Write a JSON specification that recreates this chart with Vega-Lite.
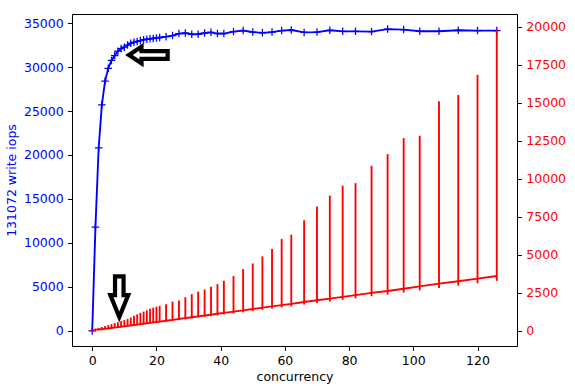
{
  "$schema": "https://vega.github.io/schema/vega-lite/v6.json",
  "width": 445,
  "height": 332,
  "autosize": {"type": "none"},
  "padding": {"left": 72, "top": 14, "right": 58, "bottom": 43},
  "background": "white",
  "config": {
    "view": {"stroke": "black", "strokeWidth": 1},
    "font": "DejaVu Sans",
    "axis": {
      "labelFont": "DejaVu Sans",
      "titleFont": "DejaVu Sans",
      "labelFontSize": 12.5,
      "titleFontSize": 12.5,
      "titleFontWeight": "normal",
      "tickSize": 4.4,
      "tickColor": "black",
      "tickWidth": 1,
      "labelPadding": 4.4,
      "domain": false,
      "grid": false
    }
  },
  "datasets": {
    "perf": [
      {"c": 0, "iops": 0, "lat": 0, "lo": 0, "hi": 0},
      {"c": 1, "iops": 11800, "lat": 83, "lo": 76, "hi": 150},
      {"c": 2, "iops": 20800, "lat": 94, "lo": 86, "hi": 200},
      {"c": 3, "iops": 25700, "lat": 114, "lo": 104, "hi": 260},
      {"c": 4, "iops": 28400, "lat": 138, "lo": 126, "hi": 320},
      {"c": 5, "iops": 29850, "lat": 164, "lo": 149, "hi": 390},
      {"c": 6, "iops": 30750, "lat": 191, "lo": 174, "hi": 450},
      {"c": 7, "iops": 31300, "lat": 219, "lo": 199, "hi": 520},
      {"c": 8, "iops": 31800, "lat": 247, "lo": 225, "hi": 580},
      {"c": 9, "iops": 32100, "lat": 275, "lo": 250, "hi": 650},
      {"c": 10, "iops": 32250, "lat": 304, "lo": 277, "hi": 710},
      {"c": 11, "iops": 32500, "lat": 332, "lo": 302, "hi": 790},
      {"c": 12, "iops": 32700, "lat": 360, "lo": 328, "hi": 880},
      {"c": 13, "iops": 32800, "lat": 388, "lo": 353, "hi": 1000},
      {"c": 14, "iops": 32900, "lat": 417, "lo": 379, "hi": 1090},
      {"c": 15, "iops": 33000, "lat": 445, "lo": 405, "hi": 1190},
      {"c": 16, "iops": 33100, "lat": 474, "lo": 431, "hi": 1270},
      {"c": 17, "iops": 33150, "lat": 503, "lo": 458, "hi": 1360},
      {"c": 18, "iops": 33200, "lat": 531, "lo": 483, "hi": 1460},
      {"c": 19, "iops": 33250, "lat": 560, "lo": 510, "hi": 1530},
      {"c": 20, "iops": 33300, "lat": 589, "lo": 536, "hi": 1590},
      {"c": 21, "iops": 33350, "lat": 617, "lo": 561, "hi": 1650},
      {"c": 23, "iops": 33450, "lat": 674, "lo": 613, "hi": 1760},
      {"c": 25, "iops": 33570, "lat": 730, "lo": 664, "hi": 1930},
      {"c": 27, "iops": 33800, "lat": 783, "lo": 713, "hi": 2000},
      {"c": 29, "iops": 33860, "lat": 839, "lo": 763, "hi": 2220},
      {"c": 31, "iops": 33720, "lat": 901, "lo": 820, "hi": 2420},
      {"c": 33, "iops": 33720, "lat": 959, "lo": 873, "hi": 2590},
      {"c": 35, "iops": 33860, "lat": 1013, "lo": 922, "hi": 2720},
      {"c": 37, "iops": 33940, "lat": 1068, "lo": 972, "hi": 2900},
      {"c": 39, "iops": 33800, "lat": 1131, "lo": 1029, "hi": 3080},
      {"c": 41, "iops": 33800, "lat": 1189, "lo": 1082, "hi": 3300},
      {"c": 44, "iops": 34020, "lat": 1267, "lo": 1153, "hi": 3610},
      {"c": 47, "iops": 34140, "lat": 1349, "lo": 1228, "hi": 4070},
      {"c": 50, "iops": 33970, "lat": 1443, "lo": 1313, "hi": 4440},
      {"c": 53, "iops": 33880, "lat": 1533, "lo": 1395, "hi": 4900},
      {"c": 56, "iops": 33970, "lat": 1616, "lo": 1471, "hi": 5390},
      {"c": 59, "iops": 34140, "lat": 1694, "lo": 1542, "hi": 6050},
      {"c": 62, "iops": 34200, "lat": 1776, "lo": 1616, "hi": 6330},
      {"c": 66, "iops": 33930, "lat": 1906, "lo": 1734, "hi": 7280},
      {"c": 70, "iops": 33970, "lat": 2020, "lo": 1838, "hi": 8180},
      {"c": 74, "iops": 34170, "lat": 2122, "lo": 1931, "hi": 8900},
      {"c": 78, "iops": 34050, "lat": 2245, "lo": 2043, "hi": 9550},
      {"c": 82, "iops": 34050, "lat": 2360, "lo": 2148, "hi": 9720},
      {"c": 87, "iops": 34020, "lat": 2506, "lo": 2280, "hi": 10860},
      {"c": 92, "iops": 34310, "lat": 2627, "lo": 2391, "hi": 11630},
      {"c": 97, "iops": 34250, "lat": 2775, "lo": 2525, "hi": 12680},
      {"c": 102, "iops": 34060, "lat": 2935, "lo": 2671, "hi": 12840},
      {"c": 108, "iops": 34060, "lat": 3108, "lo": 2828, "hi": 15100},
      {"c": 114, "iops": 34170, "lat": 3269, "lo": 2975, "hi": 15520},
      {"c": 120, "iops": 34140, "lat": 3445, "lo": 3135, "hi": 16840},
      {"c": 126, "iops": 34140, "lat": 3617, "lo": 3291, "hi": 19850}
    ],
    "arrows": [
      {"name": "left", "c": 17.46, "v": 31364},
      {"name": "down", "c": 8.43, "v": 3897}
    ]
  },
  "encoding": {
    "x": {
      "field": "c",
      "type": "quantitative",
      "scale": {"domain": [-6.3, 132.3], "nice": false, "zero": false},
      "axis": {"values": [0, 20, 40, 60, 80, 100, 120], "title": "concurrency", "labelColor": "black", "titleColor": "black", "format": "d", "titlePadding": 3}
    }
  },
  "layer": [
    {
      "data": {"name": "perf"},
      "mark": {"type": "line", "color": "#0000ff", "strokeWidth": 1.875},
      "encoding": {
        "y": {
          "field": "iops",
          "type": "quantitative",
          "scale": {"domain": [-1705, 36023], "nice": false, "zero": false},
          "axis": {"orient": "left", "values": [0, 5000, 10000, 15000, 20000, 25000, 30000, 35000], "format": "d", "labelColor": "#0000ff", "titleColor": "#0000ff", "title": "131072 write iops", "titlePadding": 5}
        }
      }
    },
    {
      "data": {"name": "perf"},
      "mark": {"type": "point", "shape": "M -1 0 L 1 0 M 0 -1 L 0 1", "size": 56, "filled": false, "color": "#0000ff", "stroke": "#0000ff", "strokeWidth": 1.25, "opacity": 1},
      "encoding": {
        "y": {"field": "iops", "type": "quantitative", "scale": {"domain": [-1705, 36023], "nice": false, "zero": false}, "axis": null}
      }
    },
    {
      "data": {"name": "arrows"},
      "transform": [{"filter": "datum.name == 'left'"}],
      "mark": {"type": "point", "shape": "M -1 0 L -0.35 -0.43 L -0.35 -0.2 L 1 -0.2 L 1 0.2 L -0.35 0.2 L -0.35 0.43 Z", "size": 1500, "filled": true, "fill": "white", "stroke": "black", "strokeWidth": 4.2, "strokeJoin": "miter", "opacity": 1},
      "encoding": {
        "y": {"field": "v", "type": "quantitative", "scale": {"domain": [-1705, 36023], "nice": false, "zero": false}, "axis": null}
      }
    },
    {
      "data": {"name": "arrows"},
      "transform": [{"filter": "datum.name == 'down'"}],
      "mark": {"type": "point", "shape": "M 0 1 L -0.44 -0.08 L -0.21 -0.08 L -0.21 -1 L 0.21 -1 L 0.21 -0.08 L 0.44 -0.08 Z", "size": 1650, "filled": true, "fill": "white", "stroke": "black", "strokeWidth": 4.2, "strokeJoin": "miter", "opacity": 1},
      "encoding": {
        "y": {"field": "v", "type": "quantitative", "scale": {"domain": [-1705, 36023], "nice": false, "zero": false}, "axis": null}
      }
    },
    {
      "data": {"name": "perf"},
      "mark": {"type": "rule", "color": "#ff0000", "strokeWidth": 1.875},
      "encoding": {
        "y": {"field": "lo", "type": "quantitative", "scale": {"domain": [-990, 20844], "nice": false, "zero": false}, "axis": null},
        "y2": {"field": "hi"}
      }
    },
    {
      "data": {"name": "perf"},
      "mark": {"type": "line", "color": "#ff0000", "strokeWidth": 1.875},
      "encoding": {
        "y": {
          "field": "lat",
          "type": "quantitative",
          "scale": {"domain": [-990, 20844], "nice": false, "zero": false},
          "axis": {"orient": "right", "values": [0, 2500, 5000, 7500, 10000, 12500, 15000, 17500, 20000], "format": "d", "labelColor": "#ff0000", "title": null}
        }
      }
    }
  ],
  "resolve": {"scale": {"y": "independent"}}
}
